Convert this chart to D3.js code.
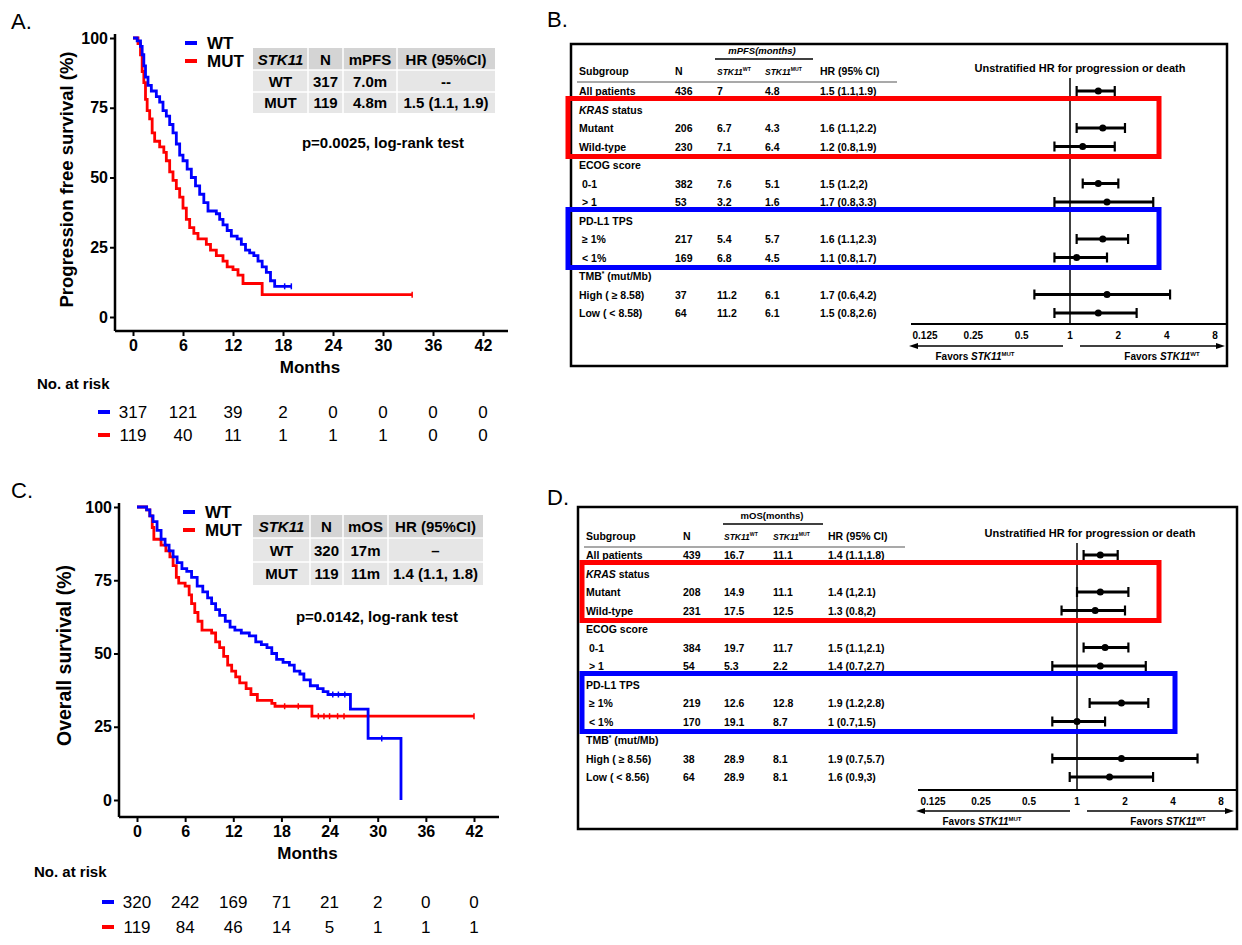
<!DOCTYPE html>
<html>
<head>
<meta charset="utf-8">
<script src="https://cdn.jsdelivr.net/npm/d3@7"></script>
<style>
  body { margin: 0; background: #fff; }
  svg { display: block; font-family: Arial, "Liberation Sans", sans-serif; }
</style>
</head>
<body>
<svg id="fig" width="1242" height="945"></svg>
<script>
// ---------- data ----------
const months = [0, 6, 12, 18, 24, 30, 36, 42];
const survTicks = [0, 25, 50, 75, 100];

// Kaplan-Meier steps: [month, survival %]
const pfsWT = [[0,100],[0.5,99],[0.9,97],[1.1,94],[1.3,90],[1.5,86],[1.8,83],[2.2,81],[2.8,79],[3.2,77],[3.6,74],[4.0,72],[4.4,69],[4.8,66],[5.2,62],[5.6,58],[6.0,56],[6.5,53],[7.0,50],[7.5,47],[8.0,44],[8.5,41],[9.0,38],[10.0,37],[10.4,35],[10.8,33],[11.3,31],[11.8,29],[12.5,28],[13.0,26],[13.5,24],[14.0,23],[14.5,22],[15.0,20],[15.5,18],[16.0,16],[16.5,13],[17.0,11],[19.0,11]];
const pfsMUT = [[0,100],[0.6,98],[0.9,94],[1.1,88],[1.3,84],[1.5,78],[1.7,74],[2.0,71],[2.3,66],[2.6,63],[3.2,61],[3.7,59],[4.0,56],[4.4,52],[4.8,49],[5.2,46],[5.6,43],[6.0,39],[6.4,35],[6.8,32],[7.3,30],[7.8,28],[8.8,26],[9.3,24],[10.0,22],[10.8,20],[11.3,18],[12.0,17],[12.6,15],[13.2,12],[15.5,8],[33.5,8]];
const osWT = [[0,100],[1.2,99],[1.6,97],[2.0,95],[2.5,92],[3.0,89],[3.5,87],[4.0,85],[4.5,83],[5.0,81],[5.6,79],[6.2,78],[6.8,76],[7.5,73],[8.2,71],[8.8,69],[9.3,67],[9.8,65],[10.3,63],[11.0,61],[11.6,59],[12.2,58],[13.0,57],[14.0,56],[14.8,54],[15.5,53],[16.2,52],[16.8,50],[17.4,48],[18.2,47],[19.0,46],[19.6,44],[20.3,43],[20.8,41],[21.6,39],[22.5,38],[23.2,37],[23.8,36],[26.6,31],[28.8,21],[32.9,0]];
const osMUT = [[0,100],[1.2,99],[1.6,97],[1.9,93],[2.1,89],[3.0,87],[3.6,85],[4.1,83],[4.5,80],[4.9,76],[5.2,74],[6.0,73],[6.5,70],[6.8,67],[7.2,64],[7.6,61],[8.1,58],[9.3,57],[9.8,54],[10.3,52],[10.8,49],[11.3,46],[11.8,44],[12.3,42],[12.8,40],[13.6,38],[14.2,36],[15.0,34],[16.8,33],[17.2,32],[21.8,28.6],[42,28.6]];
// censoring marks that stand out in the picture (months)
const pfsCensorWT = [18.2, 19.0];
const pfsCensorMUT = [33.5];
const osCensorWT = [24.4, 25.1, 25.9, 30.5];
const osCensorMUT = [18.4, 20.1, 22.6, 23.3, 24.0, 25.0, 25.8, 42];

const pfsRiskWT = [317, 121, 39, 2, 0, 0, 0, 0];
const pfsRiskMUT = [119, 40, 11, 1, 1, 1, 0, 0];
const osRiskWT = [320, 242, 169, 71, 21, 2, 0, 0];
const osRiskMUT = [119, 84, 46, 14, 5, 1, 1, 1];

const pfsTableHead = ["STK11", "N", "mPFS", "HR (95%CI)"];
const pfsTableWT = ["WT", "317", "7.0m", "--"];
const pfsTableMUT = ["MUT", "119", "4.8m", "1.5 (1.1, 1.9)"];
const osTableHead = ["STK11", "N", "mOS", "HR (95%CI)"];
const osTableWT = ["WT", "320", "17m", "\u2013"];
const osTableMUT = ["MUT", "119", "11m", "1.4 (1.1, 1.8)"];

// forest plots (header rows carry null values)
const pfsSubgroups = ["All patients", "KRAS status", "Mutant", "Wild-type", "ECOG score", "0-1", "> 1", "PD-L1 TPS", "\u2265 1%", "< 1%", "TMB* (mut/Mb)", "High  ( \u2265 8.58)", "Low  ( < 8.58)"];
const osSubgroups = ["All patients", "KRAS status", "Mutant", "Wild-type", "ECOG score", "0-1", "> 1", "PD-L1 TPS", "\u2265 1%", "< 1%", "TMB* (mut/Mb)", "High  ( \u2265 8.56)", "Low  ( < 8.56)"];
const pfsN      = [436, null, 206, 230, null, 382, 53, null, 217, 169, null, 37, 64];
const pfsMedWT  = [7, null, 6.7, 7.1, null, 7.6, 3.2, null, 5.4, 6.8, null, 11.2, 11.2];
const pfsMedMUT = [4.8, null, 4.3, 6.4, null, 5.1, 1.6, null, 5.7, 4.5, null, 6.1, 6.1];
const pfsHR     = [1.5, null, 1.6, 1.2, null, 1.5, 1.7, null, 1.6, 1.1, null, 1.7, 1.5];
const pfsLo     = [1.1, null, 1.1, 0.8, null, 1.2, 0.8, null, 1.1, 0.8, null, 0.6, 0.8];
const pfsHi     = [1.9, null, 2.2, 1.9, null, 2, 3.3, null, 2.3, 1.7, null, 4.2, 2.6];
const osN       = [439, null, 208, 231, null, 384, 54, null, 219, 170, null, 38, 64];
const osMedWT   = [16.7, null, 14.9, 17.5, null, 19.7, 5.3, null, 12.6, 19.1, null, 28.9, 28.9];
const osMedMUT  = [11.1, null, 11.1, 12.5, null, 11.7, 2.2, null, 12.8, 8.7, null, 8.1, 8.1];
const osHR      = [1.4, null, 1.4, 1.3, null, 1.5, 1.4, null, 1.9, 1, null, 1.9, 1.6];
const osLo      = [1.1, null, 1, 0.8, null, 1.1, 0.7, null, 1.2, 0.7, null, 0.7, 0.9];
const osHi      = [1.8, null, 2.1, 2, null, 2.1, 2.7, null, 2.8, 1.5, null, 5.7, 3];
const hrTicks = [0.125, 0.25, 0.5, 1, 2, 4, 8];

const BLUE = "#0000ff", RED = "#ff0000";

const fig = d3.select("#fig");
fig.append("rect").attr("width", 1242).attr("height", 945).attr("fill", "#fff");

// ---------- helpers ----------
function stkText(g, x, y, sup, size, anchor) {
  const t = g.append("text").attr("x", x).attr("y", y)
    .attr("font-size", size).attr("font-weight", "bold")
    .attr("text-anchor", anchor || "start");
  t.append("tspan").attr("font-style", "italic").text("STK11");
  t.append("tspan").attr("font-size", size * 0.6).attr("dy", -size * 0.45).text(sup);
  return t;
}

// ---------- Kaplan-Meier panel ----------
function drawKM(cfg) {
  const g = fig.append("g");
  const x = d3.scaleLinear().domain([0, 42]).range(cfg.xr);
  const y = d3.scaleLinear().domain([0, 100]).range(cfg.yr);

  g.append("text").attr("x", cfg.letter[0]).attr("y", cfg.letter[1])
    .attr("font-size", 22).text(cfg.letterText);

  // axes
  const yAxis = g.append("g").attr("transform", `translate(${cfg.axX},0)`)
    .call(d3.axisLeft(y).tickValues(survTicks).tickSize(5).tickPadding(2));
  const xAxis = g.append("g").attr("transform", `translate(0,${cfg.axY})`)
    .call(d3.axisBottom(x).tickValues(months).tickSize(5).tickPadding(4));
  [yAxis, xAxis].forEach(a => {
    a.select(".domain").remove();
    a.selectAll("line").attr("stroke", "#000").attr("stroke-width", 2);
    a.selectAll("text").attr("font-size", 16).attr("font-weight", "bold")
      .attr("font-family", "Arial, 'Liberation Sans', sans-serif").attr("fill", "#000");
  });
  g.append("line").attr("x1", cfg.axX).attr("x2", cfg.axX)
    .attr("y1", cfg.yr[1] - 4).attr("y2", cfg.axY).attr("stroke", "#000").attr("stroke-width", 2.5);
  g.append("line").attr("x1", cfg.axX).attr("x2", cfg.xr[1] + 25)
    .attr("y1", cfg.axY).attr("y2", cfg.axY).attr("stroke", "#000").attr("stroke-width", 2.5);

  g.append("text").attr("x", (cfg.xr[0] + cfg.xr[1]) / 2 + 2).attr("y", cfg.axY + 42)
    .attr("text-anchor", "middle").attr("font-size", 17).attr("font-weight", "bold").text("Months");
  g.append("text")
    .attr("transform", `translate(${cfg.yTitleX},${(cfg.yr[0] + cfg.yr[1]) / 2 + 2}) rotate(-90)`)
    .attr("text-anchor", "middle").attr("font-size", cfg.yTitleSize).attr("font-weight", "bold").text(cfg.yTitle);

  // curves
  const line = d3.line().curve(d3.curveStepAfter).x(d => x(d[0])).y(d => y(d[1]));
  const survAt = (curve, t) => curve.filter(d => d[0] <= t).pop()[1];
  [[cfg.mut, cfg.censMUT, RED], [cfg.wt, cfg.censWT, BLUE]].forEach(s => {
    g.append("path").datum(s[0]).attr("d", line).attr("fill", "none")
      .attr("stroke", s[2]).attr("stroke-width", 2.8);
    g.selectAll(null).data(s[1]).enter().append("line")
      .attr("x1", d => x(d)).attr("x2", d => x(d))
      .attr("y1", d => y(survAt(s[0], d)) - 3).attr("y2", d => y(survAt(s[0], d)) + 3)
      .attr("stroke", s[2]).attr("stroke-width", 1.5);
  });

  // legend
  [["WT", BLUE], ["MUT", RED]].forEach((d, i) => {
    const ly = cfg.legend[1] + i * 18;
    g.append("line").attr("x1", cfg.legend[0]).attr("x2", cfg.legend[0] + 12)
      .attr("y1", ly).attr("y2", ly).attr("stroke", d[1]).attr("stroke-width", 4);
    g.append("text").attr("x", cfg.legend[0] + 22).attr("y", ly + 6)
      .attr("font-size", 17).attr("font-weight", "bold").text(d[0]);
  });

  // summary table
  const cx = cfg.tCols, ry = cfg.tRows;
  g.append("rect").attr("x", cx[0]).attr("y", ry[0]).attr("width", cx[4] - cx[0])
    .attr("height", ry[1] - ry[0]).attr("fill", "#d4d4d4");
  g.append("rect").attr("x", cx[0]).attr("y", ry[1]).attr("width", cx[4] - cx[0])
    .attr("height", ry[3] - ry[1]).attr("fill", "#e6e6e6");
  cx.slice(1, 4).forEach(c => g.append("line").attr("x1", c).attr("x2", c)
    .attr("y1", ry[0]).attr("y2", ry[3]).attr("stroke", "#fff").attr("stroke-width", 1.5));
  ry.slice(1, 3).forEach(r => g.append("line").attr("x1", cx[0]).attr("x2", cx[4])
    .attr("y1", r).attr("y2", r).attr("stroke", "#fff").attr("stroke-width", 1.5));
  [cfg.head, cfg.rowWT, cfg.rowMUT].forEach((row, ri) => {
    row.forEach((v, ci) => {
      g.append("text").attr("x", (cx[ci] + cx[ci + 1]) / 2).attr("y", (ry[ri] + ry[ri + 1]) / 2 + 5.5)
        .attr("text-anchor", "middle").attr("font-size", 15).attr("font-weight", "bold")
        .attr("font-style", ri === 0 && ci === 0 ? "italic" : "normal").text(v);
    });
  });
  g.append("text").attr("x", cfg.pval[0]).attr("y", cfg.pval[1]).attr("text-anchor", "middle")
    .attr("font-size", 15).attr("font-weight", "bold").text(cfg.pText);

  // number at risk
  g.append("text").attr("x", cfg.riskLabel[0]).attr("y", cfg.riskLabel[1])
    .attr("font-size", 15).attr("font-weight", "bold").text("No. at risk");
  [[cfg.riskWT, BLUE], [cfg.riskMUT, RED]].forEach((r, i) => {
    const ry0 = cfg.riskY[i];
    g.append("line").attr("x1", x(0) - 35).attr("x2", x(0) - 23)
      .attr("y1", ry0).attr("y2", ry0).attr("stroke", r[1]).attr("stroke-width", 4);
    g.selectAll(null).data(r[0]).enter().append("text")
      .attr("x", (d, j) => x(months[j])).attr("y", ry0 + 6)
      .attr("text-anchor", "middle").attr("font-size", 17).text(d => d);
  });
}

drawKM({
  letterText: "A.", letter: [11, 29],
  xr: [133, 483], yr: [317, 38], axX: 115, axY: 331, yTitleX: 73, yTitleSize: 18.5,
  yTitle: "Progression free survival (%)",
  wt: pfsWT, mut: pfsMUT, censWT: pfsCensorWT, censMUT: pfsCensorMUT, legend: [185, 43],
  tCols: [253, 308, 343, 397, 495], tRows: [48, 70, 92, 113],
  head: pfsTableHead, rowWT: pfsTableWT, rowMUT: pfsTableMUT,
  pval: [383, 148], pText: "p=0.0025, log-rank test",
  riskLabel: [37, 389], riskY: [412, 435], riskWT: pfsRiskWT, riskMUT: pfsRiskMUT
});

drawKM({
  letterText: "C.", letter: [11, 498],
  xr: [137, 474], yr: [800, 507], axX: 119, axY: 817, yTitleX: 71, yTitleSize: 19.5,
  yTitle: "Overall survival (%)",
  wt: osWT, mut: osMUT, censWT: osCensorWT, censMUT: osCensorMUT, legend: [183, 512],
  tCols: [253, 310, 343, 388, 483], tRows: [515, 538, 562, 585],
  head: osTableHead, rowWT: osTableWT, rowMUT: osTableMUT,
  pval: [377, 622], pText: "p=0.0142, log-rank test",
  riskLabel: [34, 877], riskY: [902, 927], riskWT: osRiskWT, riskMUT: osRiskMUT
});

// ---------- forest panel ----------
function drawForest(cfg) {
  const g = fig.append("g");
  const fs = 10.5;
  g.append("text").attr("x", cfg.letter[0]).attr("y", cfg.letter[1])
    .attr("font-size", 22).text(cfg.letterText);
  g.append("rect").attr("x", cfg.box[0]).attr("y", cfg.box[1])
    .attr("width", cfg.box[2] - cfg.box[0]).attr("height", cfg.box[3] - cfg.box[1])
    .attr("fill", "none").attr("stroke", "#000").attr("stroke-width", 2.5);

  const x = d3.scaleLog().base(2).domain([0.125, 8]).range(cfg.xr);
  const rows = d3.scalePoint().domain(d3.range(cfg.labels.length)).range(cfg.rowY);
  const c = cfg.cols;

  // column headings
  g.append("text").attr("x", cfg.medTitle[0]).attr("y", cfg.medTitle[1])
    .attr("text-anchor", "middle").attr("font-size", fs - 1).attr("font-weight", "bold")
    .attr("font-style", cfg.medItalic ? "italic" : "normal").text(cfg.medText);
  g.append("line").attr("x1", cfg.medLine[0]).attr("x2", cfg.medLine[1])
    .attr("y1", cfg.medLine[2]).attr("y2", cfg.medLine[2]).attr("stroke", "#000").attr("stroke-width", 1.5);
  const hy = cfg.headY;
  g.append("text").attr("x", c[0]).attr("y", hy).attr("font-size", fs).attr("font-weight", "bold").text("Subgroup");
  g.append("text").attr("x", c[1]).attr("y", hy).attr("font-size", fs).attr("font-weight", "bold").text("N");
  stkText(g, c[2], hy, "WT", fs - 2);
  stkText(g, c[3], hy, "MUT", fs - 2);
  g.append("text").attr("x", c[4]).attr("y", hy).attr("font-size", fs).attr("font-weight", "bold").text("HR (95% CI)");
  g.append("line").attr("x1", c[0] - 2).attr("x2", cfg.headLineEnd)
    .attr("y1", hy + 7).attr("y2", hy + 7).attr("stroke", "#555").attr("stroke-width", 1.2);
  g.append("text").attr("x", cfg.titleX).attr("y", hy - 3).attr("text-anchor", "middle")
    .attr("font-size", 11).attr("font-weight", "bold").text("Unstratified HR for progression or death");

  // rows
  const indent = [5, 6, 8, 9];
  cfg.labels.forEach((lab, i) => {
    const yy = rows(i) + 4;
    const t = g.append("text").attr("x", c[0] + (indent.includes(i) ? 3 : 0)).attr("y", yy)
      .attr("font-size", fs).attr("font-weight", "bold");
    if (lab.startsWith("KRAS")) {
      t.append("tspan").attr("font-style", "italic").text("KRAS");
      t.append("tspan").text(" status");
    } else if (lab.startsWith("TMB")) {
      t.append("tspan").text("TMB");
      t.append("tspan").attr("font-size", 6.5).attr("dy", -4).text("*");
      t.append("tspan").attr("dy", 4).text(" (mut/Mb)");
    } else {
      t.text(lab);
    }
    if (cfg.hr[i] == null) return;
    [[c[1], cfg.n[i]], [c[2], cfg.wt[i]], [c[3], cfg.mut[i]],
     [c[4], `${cfg.hr[i]} (${cfg.lo[i]},${cfg.hi[i]})`]].forEach(d => {
      g.append("text").attr("x", d[0]).attr("y", yy).attr("font-size", fs)
        .attr("font-weight", "bold").text(d[1]);
    });
  });

  // reference line and axis
  g.append("line").attr("x1", x(1)).attr("x2", x(1))
    .attr("y1", cfg.refTop).attr("y2", cfg.axisY).attr("stroke", "#000").attr("stroke-width", 1.5);
  g.append("line").attr("x1", cfg.axisX[0]).attr("x2", cfg.axisX[1])
    .attr("y1", cfg.axisY).attr("y2", cfg.axisY).attr("stroke", "#000").attr("stroke-width", 2);
  g.selectAll(null).data(hrTicks).enter().append("text")
    .attr("x", d => x(d)).attr("y", cfg.axisY + 15).attr("text-anchor", "middle")
    .attr("font-size", 10).attr("font-weight", "bold").text(d => d);

  // intervals
  cfg.hr.forEach((h, i) => {
    if (h == null) return;
    const yy = rows(i);
    g.append("line").attr("x1", x(cfg.lo[i])).attr("x2", x(cfg.hi[i]))
      .attr("y1", yy).attr("y2", yy).attr("stroke", "#000").attr("stroke-width", 2.8);
    [cfg.lo[i], cfg.hi[i]].forEach(v => g.append("line").attr("x1", x(v)).attr("x2", x(v))
      .attr("y1", yy - 5).attr("y2", yy + 5).attr("stroke", "#000").attr("stroke-width", 2.2));
    g.append("circle").attr("cx", x(h)).attr("cy", yy).attr("r", 3.5).attr("fill", "#000");
  });

  // favours arrows
  const ay = cfg.arrowY;
  const arrows = [[x(1) - 7, cfg.axisX[0] + 2], [x(1) + 10, cfg.axisX[1] - 6]];
  arrows.forEach(a => {
    g.append("line").attr("x1", a[0]).attr("x2", a[1]).attr("y1", ay).attr("y2", ay)
      .attr("stroke", "#000").attr("stroke-width", 1.6);
    const dir = a[1] < a[0] ? -1 : 1;
    g.append("path").attr("d", `M${a[1] + dir * 4},${ay} L${a[1] - dir * 5},${ay - 3} L${a[1] - dir * 5},${ay + 3} Z`)
      .attr("fill", "#000");
  });
  [["MUT", cfg.favX[0]], ["WT", cfg.favX[1]]].forEach(f => {
    const t = g.append("text").attr("x", f[1]).attr("y", ay + 14).attr("text-anchor", "middle")
      .attr("font-size", fs - 0.5).attr("font-weight", "bold");
    t.append("tspan").text("Favors ");
    t.append("tspan").attr("font-style", "italic").text("STK11");
    t.append("tspan").attr("font-size", 6).attr("dy", -4.5).text(f[0]);
  });

  // highlight boxes
  [[1, 3, RED, cfg.redRight], [7, 9, BLUE, cfg.blueRight]].forEach(b => {
    g.append("rect").attr("x", cfg.hlLeft).attr("y", rows(b[0]) - 11)
      .attr("width", b[3] - cfg.hlLeft).attr("height", rows(b[1]) - rows(b[0]) + 21)
      .attr("fill", "none").attr("stroke", b[2]).attr("stroke-width", 5);
  });
}

drawForest({
  letterText: "B.", letter: [547, 27],
  box: [571, 44, 1227, 366],
  xr: [925, 1215], rowY: [91, 313],
  cols: [579, 675, 717, 765, 820],
  labels: pfsSubgroups, n: pfsN, wt: pfsMedWT, mut: pfsMedMUT, hr: pfsHR, lo: pfsLo, hi: pfsHi,
  medText: "mPFS(months)", medItalic: true, medTitle: [762, 54], medLine: [715, 813, 59],
  headY: 75, headLineEnd: 897, titleX: 1080,
  refTop: 78, axisY: 324, axisX: [911, 1227],
  arrowY: 346, favX: [975, 1162],
  hlLeft: 568, redRight: 1159, blueRight: 1159
});

drawForest({
  letterText: "D.", letter: [547, 505],
  box: [578, 507, 1237, 829],
  xr: [933, 1221], rowY: [555, 777],
  cols: [586, 683, 724, 773, 828],
  labels: osSubgroups, n: osN, wt: osMedWT, mut: osMedMUT, hr: osHR, lo: osLo, hi: osHi,
  medText: "mOS(months)", medItalic: false, medTitle: [772, 519], medLine: [723, 823, 524],
  headY: 540, headLineEnd: 905, titleX: 1090,
  refTop: 543, axisY: 790, axisX: [918, 1236],
  arrowY: 811, favX: [982, 1168],
  hlLeft: 582, redRight: 1159, blueRight: 1175
});
</script>
</body>
</html>
